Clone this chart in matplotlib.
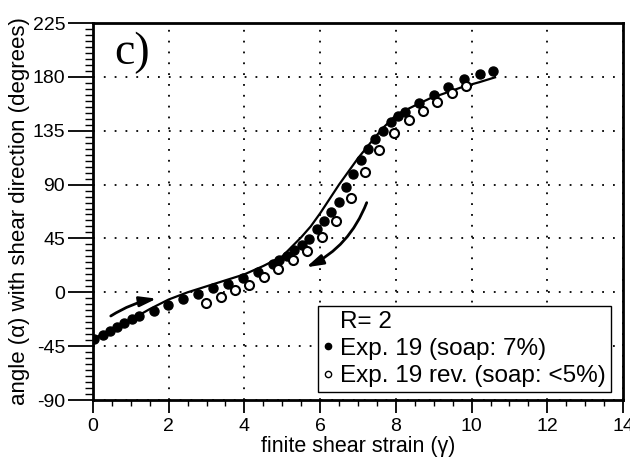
import matplotlib
matplotlib.use("Agg")
import matplotlib.pyplot as plt
from matplotlib.lines import Line2D
from matplotlib.ticker import MultipleLocator

plt.rcParams['font.family'] = ['Liberation Sans', 'DejaVu Sans']
plt.rcParams['axes.unicode_minus'] = False

# Exp. 19 (filled circles)
exp19_x = [0.03, 0.26, 0.45, 0.63, 0.82, 1.02, 1.21, 1.61, 1.99, 2.39, 2.78, 3.18, 3.57,
           3.95, 4.35, 4.75, 4.92, 5.13, 5.32, 5.52, 5.71, 5.91, 6.10, 6.29, 6.49, 6.68,
           6.87, 7.07, 7.26, 7.46, 7.65, 7.86, 8.06, 8.25, 8.62, 9.01, 9.39, 9.80, 10.22, 10.57]
exp19_y = [-39, -36, -32, -29, -26, -22.6, -19.5, -15.6, -10.8, -5.8, -1.1, 3.3, 7.2,
           11.7, 17.2, 23.9, 26.7, 30.3, 35.4, 39.3, 44.8, 52.5, 59.3, 67, 75.5, 88,
           99, 110.3, 120, 127.8, 135, 142.3, 147.6, 150.9, 158.4, 164.6, 171.3, 178.5, 182.4, 184.6]

# Exp. 19 rev. (open circles)
rev_x = [2.98, 3.37, 3.75, 4.13, 4.52, 4.90, 5.29, 5.66, 6.04, 6.42, 6.81, 7.18, 7.56,
         7.95, 8.34, 8.72, 9.09, 9.48, 9.85]
rev_y = [-9, -3.6, 1.5, 6.5, 13.1, 19.5, 26.7, 34.4, 46, 59.7, 79, 100.6, 118.9,
         133.4, 143.7, 151.5, 158.7, 166.3, 172.4]

# theoretical curve R = 2
theory_x = [0, 0.5, 1.0, 1.5, 2.0, 2.5, 3.0, 3.5, 4.0, 4.5, 5.0, 5.5, 5.75, 6.0, 6.25,
            6.5, 6.75, 7.0, 7.32, 7.65, 8.02, 8.5, 8.9, 9.4, 9.78, 10.2, 10.62]
theory_y = [-39, -31, -23, -14, -6, 0, 5, 10, 15, 22, 30, 46, 55, 66, 78,
            90, 101, 112, 124.5, 137, 148.5, 156, 162, 167.5, 171.8, 175.5, 179.6]

fig = plt.figure(figsize=(6.3, 4.61), dpi=100)
ax = fig.add_axes([0.1476, 0.1323, 0.8413, 0.8178])

ax.plot(theory_x, theory_y, color='black', lw=1.6, zorder=2)
ax.plot(exp19_x, exp19_y, 'o', color='black', ms=6.5, zorder=3)
ax.plot(rev_x, rev_y, 'o', mfc='white', mec='black', mew=1.5, ms=6.5, zorder=3)

# arrows showing shear sense
ax.annotate('', xy=(1.68, -5.3), xytext=(0.47, -19.8),
            arrowprops=dict(arrowstyle='-|>,head_length=1.0,head_width=0.3', color='black',
                            lw=2, connectionstyle='arc3,rad=-0.1', shrinkA=0, shrinkB=0))
ax.annotate('', xy=(5.63, 20.9), xytext=(7.23, 74.9),
            arrowprops=dict(arrowstyle='-|>,head_length=1.0,head_width=0.3', color='black',
                            lw=2, connectionstyle='arc3,rad=-0.2', shrinkA=0, shrinkB=0))

ax.set_xlim(0, 14)
ax.set_ylim(-90, 225)
ax.xaxis.set_major_locator(MultipleLocator(2))
ax.xaxis.set_minor_locator(MultipleLocator(0.5))
ax.yaxis.set_major_locator(MultipleLocator(45))
ax.yaxis.set_minor_locator(MultipleLocator(5))
ax.tick_params(which='both', direction='out', colors='black', labelsize=14)
ax.tick_params(axis='x', which='major', length=9, width=1.3, pad=4)
ax.tick_params(axis='x', which='minor', length=4.5, width=1)
ax.tick_params(axis='y', which='major', length=18, width=1.3, pad=2)
ax.tick_params(axis='y', which='minor', length=5.5, width=1)
ax.grid(True, which='major', color='black', linestyle=(0, (1, 5)), lw=1.3)
for s in ax.spines.values():
    s.set_linewidth(2)

ax.set_xlabel('finite shear strain (\u03b3)', fontsize=15.5, labelpad=1)
ax.set_ylabel('angle (\u03b1) with shear direction (degrees)', fontsize=16, labelpad=2)

ax.text(0.04, 0.978, 'c)', transform=ax.transAxes, fontsize=33, family='Liberation Serif',
        va='top', ha='left')

handles = [Line2D([], [], linestyle='none'),
           Line2D([], [], marker='o', color='black', linestyle='none', ms=4.5),
           Line2D([], [], marker='o', mfc='white', mec='black', mew=1, linestyle='none', ms=4.5)]
labels = ['R= 2', 'Exp. 19 (soap: 7%)', 'Exp. 19 rev. (soap: <5%)']
leg = ax.legend(handles, labels, loc='lower right', bbox_to_anchor=(0.977, 0.021),
                borderaxespad=0, fontsize=17.5, handlelength=0.4, handletextpad=0.3,
                borderpad=0.2, labelspacing=0.22, fancybox=False, framealpha=1,
                edgecolor='black')
leg.get_frame().set_linewidth(1)

fig.savefig('out.png', dpi=100)
